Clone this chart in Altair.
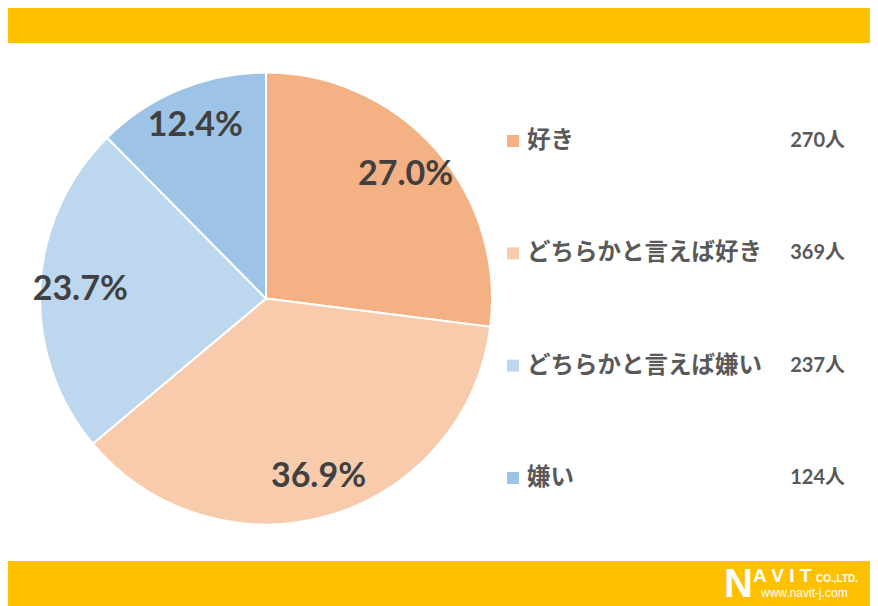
import altair as alt
import pandas as pd

categories = ["好き", "どちらかと言えば好き", "どちらかと言えば嫌い", "嫌い"]
counts = [270, 369, 237, 124]
colors = ["#F4B183", "#F8CBAD", "#BDD7EE", "#9DC3E6"]

total = sum(counts)
df = pd.DataFrame({
    "cat": categories,
    "count": counts,
    "idx": list(range(len(categories))),
    "pct": [f"{c / total * 100:.1f}%" for c in counts],
    "countLabel": [f"{c}人" for c in counts],
})

W, H = 862, 598
CX, CY, R = 258, 290.5, 226
YELLOW = "#FFC000"

color_scale = alt.Scale(domain=categories, range=colors)
base = alt.Chart(df)

pie = base.mark_arc(outerRadius=R, stroke="white", strokeWidth=2).encode(
    theta=alt.Theta("count:Q", stack=True),
    order=alt.Order("idx:Q"),
    color=alt.Color("cat:N", scale=color_scale, legend=None),
    x=alt.value(CX), y=alt.value(CY),
)

pct_text = base.mark_text(
    radius=186, font="Lato", fontSize=34, fontWeight="bold", color="#404040"
).encode(
    theta=alt.Theta("count:Q", stack=True),
    order=alt.Order("idx:Q"),
    text="pct:N",
    x=alt.value(CX), y=alt.value(CY),
)

yscale = alt.Scale(type="point", domain=categories, range=[133, 470], padding=0)

leg_sq = base.mark_square(size=144, opacity=1).encode(
    x=alt.value(505),
    y=alt.Y("cat:N", scale=yscale, axis=None),
    color=alt.Color("cat:N", scale=color_scale, legend=None),
)
leg_txt = base.mark_text(
    align="left", baseline="middle", font="Noto Sans CJK JP", fontSize=23.5,
    fontWeight="bold", color="#595959"
).encode(
    x=alt.value(519),
    y=alt.Y("cat:N", scale=yscale, axis=None),
    text="cat:N",
)
leg_cnt = base.mark_text(
    align="right", baseline="middle", font="Lato, Noto Sans CJK JP", fontSize=20,
    fontWeight="bold", color="#595959"
).encode(
    x=alt.value(837),
    y=alt.Y("cat:N", scale=yscale, axis=None),
    text="countLabel:N",
)

deco = alt.Chart(pd.DataFrame({"a": [0]}))
top_bar = deco.mark_rect(color=YELLOW).encode(
    x=alt.value(-10), x2=alt.value(W + 10), y=alt.value(-10), y2=alt.value(35)
)
bot_bar = deco.mark_rect(color=YELLOW).encode(
    x=alt.value(-10), x2=alt.value(W + 10), y=alt.value(553), y2=alt.value(H + 10)
)
logo_n = deco.mark_text(
    text="N", font="Liberation Sans", fontSize=40, fontWeight="bold",
    color="white", align="left", baseline="alphabetic"
).encode(x=alt.value(716), y=alt.value(589))
logo_avit = deco.mark_text(
    text="A V I T", font="Liberation Sans", fontSize=19, fontWeight="bold",
    color="white", align="left", baseline="alphabetic"
).encode(x=alt.value(745), y=alt.value(574))
logo_co = deco.mark_text(
    text="CO.,LTD.", font="Liberation Sans", fontSize=10, fontWeight="bold",
    color="white", align="left", baseline="alphabetic"
).encode(x=alt.value(808), y=alt.value(574))
logo_url = deco.mark_text(
    text="www.navit-j.com", font="Liberation Sans", fontSize=12,
    color="white", align="left", baseline="alphabetic"
).encode(x=alt.value(753), y=alt.value(589))

chart = alt.layer(
    top_bar, bot_bar, pie, pct_text, leg_sq, leg_txt, leg_cnt,
    logo_n, logo_avit, logo_co, logo_url
).properties(
    width=W, height=H, padding=0, autosize=alt.AutoSizeParams(type="none"),
    background="white"
).configure_view(stroke=None)

chart.save("out.html", embed_options={"renderer": "svg", "actions": False})
